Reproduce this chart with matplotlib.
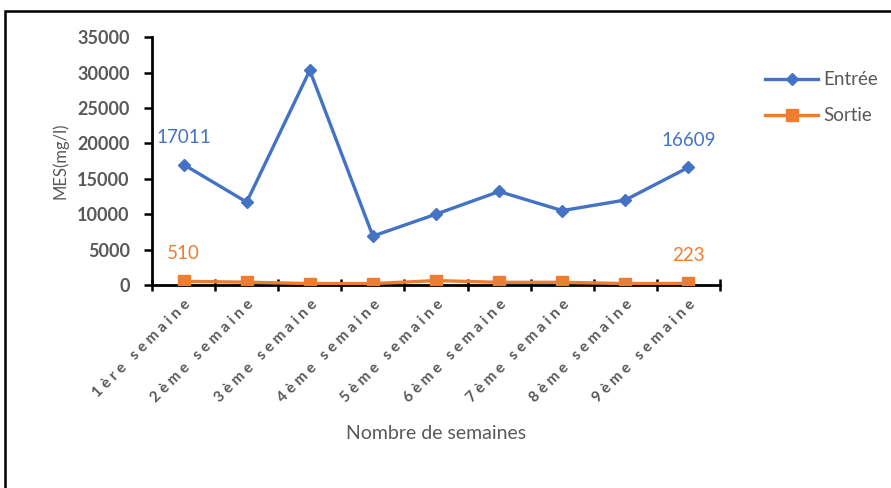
import numpy as np
import matplotlib.pyplot as plt
from matplotlib.patches import Rectangle

plt.rcParams['font.family'] = ['Lato', 'DejaVu Sans']

# data
weeks = ["1ère semaine", "2ème semaine", "3ème semaine", "4ème semaine", "5ème semaine",
         "6ème semaine", "7ème semaine", "8ème semaine", "9ème semaine"]
entree = [17011, 11700, 30300, 6900, 10000, 13200, 10500, 12000, 16609]
sortie = [510, 400, 200, 200, 620, 380, 380, 200, 223]

blue = '#4472C4'
orange = '#ED7D31'
grey = '#595959'

fig = plt.figure(figsize=(8.91, 4.88), dpi=100)
fig.patches.append(Rectangle((0.006, -0.05), 1.05, 1.028, transform=fig.transFigure,
                             fill=False, edgecolor='black', linewidth=1.8))
ax = fig.add_axes([0.1706, 0.416, 0.6375, 0.508])

x = np.arange(len(weeks))
ax.plot(x, entree, color=blue, linewidth=2.4, marker='D', markersize=6.5, label='Entrée', zorder=3)
ax.plot(x, sortie, color=orange, linewidth=2.4, marker='s', markersize=9, label='Sortie', zorder=4)

# data labels on first and last points
for i in (0, len(weeks) - 1):
    ax.annotate(f"{entree[i]}", (x[i], entree[i]), xytext=(0, 13), textcoords='offset points',
                ha='center', va='bottom', color=blue, fontsize=13.5)
    ax.annotate(f"{sortie[i]}", (x[i], sortie[i]), xytext=(0, 14), textcoords='offset points',
                ha='center', va='bottom', color=orange, fontsize=13.5)

ax.set_xlim(-0.5, len(weeks) - 0.5)
ax.set_ylim(0, 35000)
ax.set_yticks(np.arange(0, 35001, 5000))
ax.set_xticks(x)
spaced = [' '.join(w) for w in weeks]
ax.set_xticklabels(spaced, rotation=45, ha='right', rotation_mode='anchor',
                   fontsize=11, fontweight='bold', color=grey)
ax.set_xticks(np.arange(-0.5, len(weeks)), minor=True)
ax.tick_params(axis='x', which='major', length=0, pad=9)
ax.tick_params(axis='x', which='minor', direction='inout', length=8, width=1.8)
ax.tick_params(axis='y', direction='out', length=6, width=1.8, labelsize=13,
               labelcolor=grey, pad=10)
for lbl in ax.get_yticklabels():
    lbl.set_fontweight('bold')

for s in ['top', 'right']:
    ax.spines[s].set_visible(False)
for s in ['left', 'bottom']:
    ax.spines[s].set_linewidth(2)

ax.set_ylabel('MES(mg/l)', fontsize=12, color=grey, labelpad=6)
ax.set_xlabel('Nombre de semaines', fontsize=14, color=grey, labelpad=14)

leg = ax.legend(loc='upper left', bbox_to_anchor=(1.05, 0.93), frameon=False,
                fontsize=13.5, handlelength=2.8, labelspacing=1.0, handletextpad=0.3)
for t in leg.get_texts():
    t.set_color(grey)

plt.savefig('out.png', dpi=100)
